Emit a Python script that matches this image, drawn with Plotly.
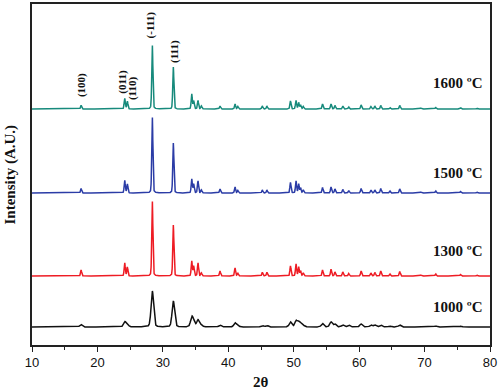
import numpy as np
import plotly.graph_objects as go

# ---- data ----
two_theta_peaks = [17.5, 24.17, 24.57, 28.39, 31.60, 34.41, 34.71, 35.37, 35.88, 38.73,
                   41.03, 41.45, 45.2, 45.9, 49.5, 50.35, 50.75, 51.05, 51.45, 54.4,
                   55.7, 56.3, 57.5, 58.4, 60.3, 61.8, 62.4, 63.3, 64.7, 66.2,
                   69.5, 71.7, 75.5, 78.0]
h_1000 = [2.5, 5, 3, 36, 26, 9, 5, 7, 2, 2, 4, 1.5, 1.5, 1.5, 5, 6, 4, 3, 1.5, 3.5,
          5, 3, 2, 2, 3, 2, 2, 2, 1, 2, 0.7, 1, 0.8, 0.6]
h_1300 = [6, 13, 9, 75, 51, 15, 10, 13, 3, 5, 8, 3, 3.7, 3.7, 10, 12, 9, 5, 3, 6,
          6.7, 4, 4, 2.5, 5, 3, 3.5, 5, 2, 4.5, 1, 2, 1.5, 1]
h_1500 = [4.5, 12.7, 9, 76, 50, 14, 9, 12, 3, 4, 6, 2.5, 3, 3, 10.5, 12, 9, 5, 3, 5.5,
          6, 4, 3.5, 2.5, 4.5, 3, 3, 4.5, 2, 4, 1, 2, 1.5, 1]
h_1600 = [3.7, 10.7, 7.7, 64, 42, 15, 8, 8.5, 3, 3, 5, 2.5, 3, 3, 8, 8.5, 6.5, 4, 2.5, 5,
          5, 3.5, 3, 2, 4, 2.5, 3, 3.5, 1.5, 3.5, 1, 1.5, 1.2, 0.8]
series_names = ["1000 ºC", "1300 ºC", "1500 ºC", "1600 ºC"]
series_heights = [h_1000, h_1300, h_1500, h_1600]
series_offsets = [18, 69, 152, 236]
series_fwhm = [0.45, 0.2, 0.2, 0.2]
series_colors = ["#111111", "#ee1c24", "#2b3ca6", "#178a7c"]
label_y = [38, 94, 172, 262]

hkl_labels = ["(100)", "(011)", "(110)", "(-111)", "(111)"]
hkl_x = [17.5, 23.7, 25.3, 28.1, 31.7]
hkl_y = [260, 263, 257, 320, 294]

x = np.arange(10, 80.001, 0.02)


def profile(heights, fwhm):
    y = np.zeros_like(x)
    s = fwhm / 2.3548
    g = fwhm / 2
    for c, h in zip(two_theta_peaks, heights):
        gauss = np.exp(-0.5 * ((x - c) / s) ** 2)
        lor = 1 / (1 + ((x - c) / g) ** 2)
        y += h * (0.75 * gauss + 0.25 * lor)
    return y


fig = go.Figure()
for name, hs, off, fw, col in zip(series_names, series_heights, series_offsets,
                                   series_fwhm, series_colors):
    fig.add_trace(go.Scatter(x=x, y=profile(hs, fw) + off, mode="lines", name=name,
                             line=dict(color=col, width=1.5), showlegend=False))

annotations = []
for name, ly in zip(series_names, label_y):
    annotations.append(dict(x=79.2, y=ly, xref="x", yref="y", text="<b>%s</b>" % name,
                            showarrow=False, xanchor="right", yanchor="middle",
                            font=dict(family="Liberation Serif", size=15, color="#111")))
for t, hx, hy in zip(hkl_labels, hkl_x, hkl_y):
    annotations.append(dict(x=hx, y=hy, xref="x", yref="y", text="<b>%s</b>" % t,
                            showarrow=False, textangle=-90,
                            font=dict(family="Liberation Serif", size=11, color="#111")))
annotations.append(dict(x=0.5, y=-0.1085, xref="paper", yref="paper", text="<b>2θ</b>",
                        showarrow=False, yanchor="middle",
                        font=dict(family="Liberation Serif", size=15, color="#111")))
annotations.append(dict(x=-0.048, y=0.5, xref="paper", yref="paper",
                        text="<b>Intensity (A.U.)</b>", showarrow=False, textangle=-90,
                        xanchor="center", yanchor="middle",
                        font=dict(family="Liberation Serif", size=15, color="#111")))

fig.update_layout(
    width=500, height=389,
    margin=dict(l=32, r=10, t=4, b=44, autoexpand=False),
    paper_bgcolor="white", plot_bgcolor="white",
    annotations=annotations,
    xaxis=dict(range=[10, 80], tickvals=[10, 20, 30, 40, 50, 60, 70, 80],
               ticks="outside", ticklen=5, tickwidth=1.2, tickcolor="#222",
               minor=dict(tickvals=[15, 25, 35, 45, 55, 65, 75], ticks="outside",
                          ticklen=3, tickcolor="#222"),
               showline=True, linecolor="#222", linewidth=1.6, mirror=True,
               showgrid=False, zeroline=False,
               tickfont=dict(family="Liberation Sans", size=13, color="#111")),
    yaxis=dict(range=[0, 341], showticklabels=False, ticks="",
               showline=True, linecolor="#222", linewidth=1.6, mirror=True,
               showgrid=False, zeroline=False),
)

fig.write_html("out.html", config={"displayModeBar": False},
               post_script="document.body.style.margin='0';document.body.style.padding='0';")
